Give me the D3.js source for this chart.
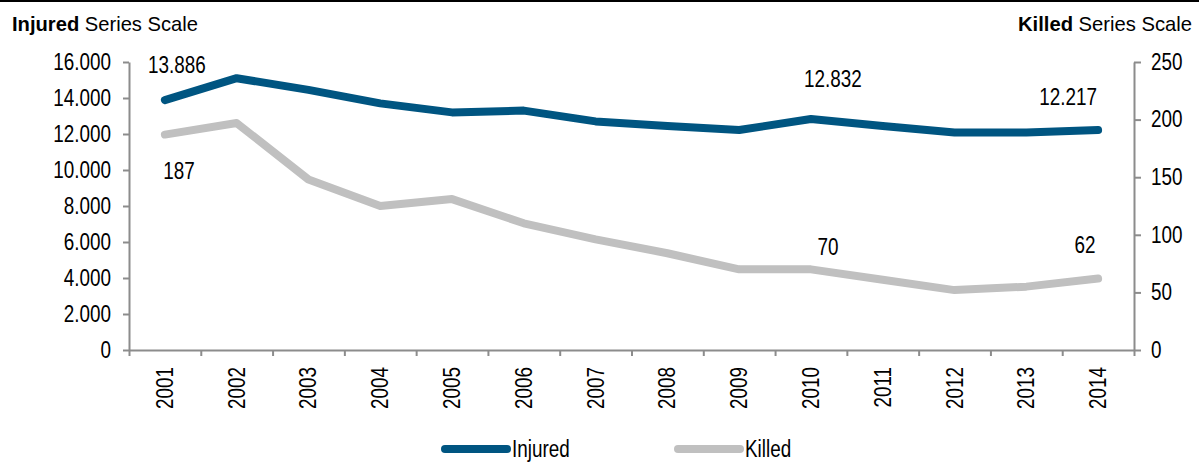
<!DOCTYPE html>
<html><head><meta charset="utf-8">
<script src="https://cdn.jsdelivr.net/npm/d3@7/dist/d3.min.js"></script>
<style>
body{margin:0;background:#fff;}
svg{display:block;font-family:"Liberation Sans",Arial,sans-serif;}
</style></head>
<body><svg id="c" width="1199" height="463"></svg>
<script>
const years = ["2001","2002","2003","2004","2005","2006","2007","2008","2009","2010","2011","2012","2013","2014"];
const injured = [13886,15100,14450,13700,13200,13300,12700,12450,12220,12832,12450,12080,12090,12217];
const killed = [187,197,148,125,131,110,96,84,70,70,61,52,55,62];
const leftTicks = [0,2000,4000,6000,8000,10000,12000,14000,16000];
const rightTicks = [0,50,100,150,200,250];
const seriesNames = ["Injured","Killed"];
const colors = ["#005581","#c0c0c0"];

const FONT = "'Liberation Sans',Arial,sans-serif";
const FS = 23;
const NARROW = 0.82;
const svg = d3.select("#c");
const m = {l:129, r:1134, t:62, b:350};
const x = d3.scaleBand().domain(years).range([m.l, m.r]);
const yL = d3.scaleLinear().domain([0,16000]).range([m.b, m.t]);
const yR = d3.scaleLinear().domain([0,250]).range([m.b, m.t]);
const fmt = v => d3.format(",")(v).replace(/,/g,".");
const axisColor = "#8c8c8c";

function narrow(sel, k){
  sel.each(function(){
    const L = this.getComputedTextLength();
    if (L>0) d3.select(this).attr("textLength", L*(k||NARROW)).attr("lengthAdjust","spacingAndGlyphs");
  });
}

// top border
svg.append("line").attr("x1",0).attr("x2",1199).attr("y1",1).attr("y2",1).attr("stroke","#000").attr("stroke-width",2);

// titles
const t1 = svg.append("text").attr("x",12).attr("y",31).attr("font-size",21).attr("fill","#000");
t1.append("tspan").attr("font-weight","bold").text("Injured");
t1.append("tspan").text(" Series Scale");
const t2 = svg.append("text").attr("x",1192).attr("y",31).attr("font-size",21).attr("text-anchor","end");
t2.append("tspan").attr("font-weight","bold").text("Killed");
t2.append("tspan").text(" Series Scale");
t1.attr("textLength",186).attr("lengthAdjust","spacingAndGlyphs");
t2.attr("textLength",174).attr("lengthAdjust","spacingAndGlyphs");

function styleAxis(g){
  g.selectAll("path.domain").attr("stroke",axisColor).attr("stroke-width",2);
  g.selectAll(".tick line").attr("stroke",axisColor).attr("stroke-width",2);
  g.selectAll("text").attr("font-size",FS).attr("fill","#000").attr("font-family",FONT).call(narrow);
}

const gL = svg.append("g").attr("transform",`translate(${m.l},0)`)
  .call(d3.axisLeft(yL).tickValues(leftTicks).tickFormat(fmt).tickSize(6).tickSizeOuter(0).tickPadding(12));
styleAxis(gL);
const gR = svg.append("g").attr("transform",`translate(${m.r},0)`)
  .call(d3.axisRight(yR).tickValues(rightTicks).tickSize(7).tickSizeOuter(0).tickPadding(10));
styleAxis(gR);

const xTickScale = d3.scaleLinear().domain([0,years.length]).range([m.l,m.r]);
const gX = svg.append("g").attr("transform",`translate(0,${m.b})`)
  .call(d3.axisBottom(xTickScale).tickValues(d3.range(years.length+1)).tickFormat("").tickSize(6).tickSizeOuter(0));
styleAxis(gX);
svg.append("g").selectAll("text").data(years).join("text")
  .attr("transform",d=>`translate(${x(d)+x.bandwidth()/2+8},${m.b+17}) rotate(-90)`)
  .attr("text-anchor","end").attr("font-size",FS).text(d=>d).call(narrow);

const cx = d => x(d)+x.bandwidth()/2;
const lineL = d3.line().x((d,i)=>cx(years[i])).y(d=>yL(d));
const lineR = d3.line().x((d,i)=>cx(years[i])).y(d=>yR(d));
svg.append("path").datum(killed).attr("d",lineR).attr("fill","none").attr("stroke",colors[1]).attr("stroke-width",8).attr("stroke-linecap","round").attr("stroke-linejoin","round");
svg.append("path").datum(injured).attr("d",lineL).attr("fill","none").attr("stroke",colors[0]).attr("stroke-width",8).attr("stroke-linecap","round").attr("stroke-linejoin","round");

// data labels
const labels = [
  {s:0,i:0,dx:12,dy:-27},{s:0,i:9,dx:22,dy:-32},{s:0,i:13,dx:-30,dy:-25},
  {s:1,i:0,dx:14,dy:44},{s:1,i:9,dx:17,dy:-14},{s:1,i:13,dx:-13,dy:-26}
];
svg.append("g").selectAll("text").data(labels).join("text")
  .attr("x",d=>cx(years[d.i])+d.dx)
  .attr("y",d=>(d.s===0?yL(injured[d.i]):yR(killed[d.i]))+d.dy)
  .attr("text-anchor","middle").attr("font-size",FS)
  .text(d=>d.s===0?fmt(injured[d.i]):killed[d.i]).call(narrow);

// legend
const leg = [{x:445},{x:678}];
const lg = svg.append("g").selectAll("g").data(seriesNames).join("g")
  .attr("transform",(d,i)=>`translate(${leg[i].x},449)`);
lg.append("line").attr("x1",0).attr("x2",62).attr("stroke",(d,i)=>colors[i]).attr("stroke-width",8).attr("stroke-linecap","round");
lg.append("text").attr("x",67).attr("y",8).attr("font-size",FS).text(d=>d).call(narrow);
</script></body></html>
